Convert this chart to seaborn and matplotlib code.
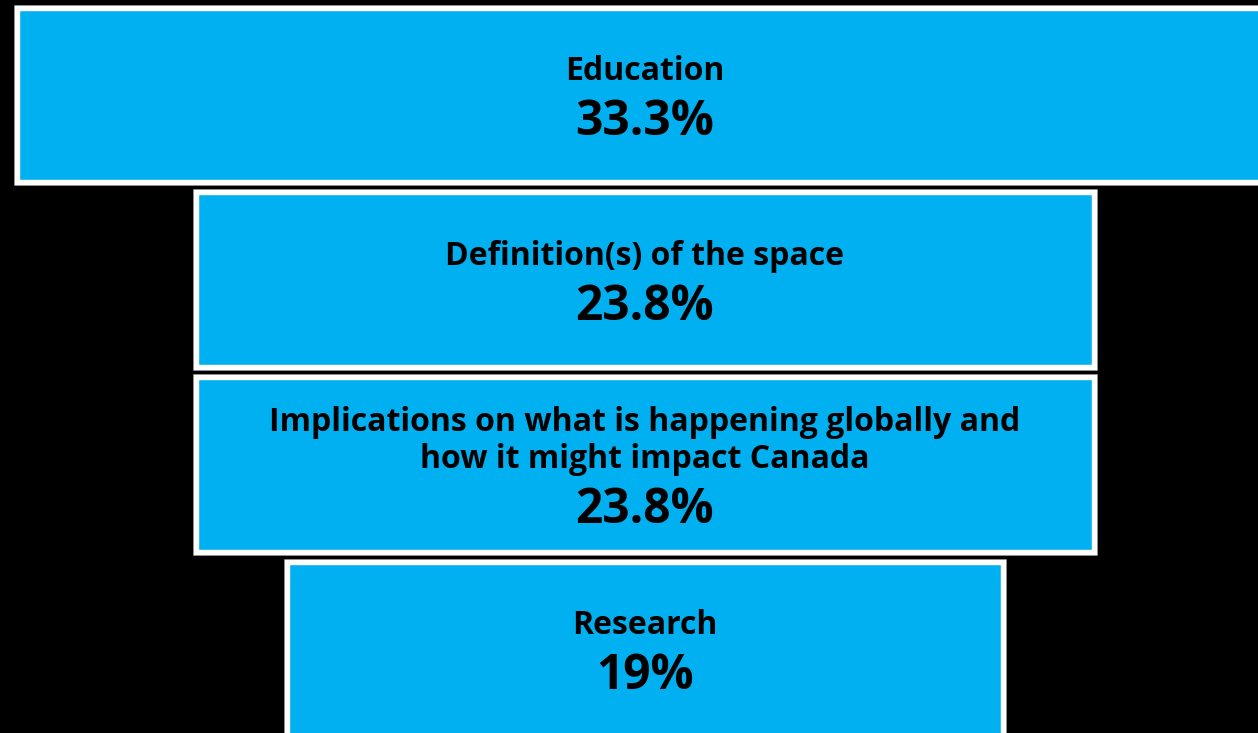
import matplotlib
matplotlib.use("Agg")
import matplotlib.pyplot as plt
from matplotlib.transforms import offset_copy
import seaborn as sns

# funnel data
categories = ["Education", "Definition(s) of the space",
              "Implications on what is happening globally and\nhow it might impact Canada",
              "Research"]
values = [33.3, 23.8, 23.8, 19]
pct_labels = ["33.3%", "23.8%", "23.8%", "19%"]

sns.set_theme(style="dark")
plt.rcParams['font.family'] = ['Open Sans', 'DejaVu Sans']

fig = plt.figure(figsize=(12.58, 7.33), dpi=100, facecolor="black")
ax = fig.add_axes([0, 0, 1, 1])
ax.set_facecolor("black")

# grey outline behind, then white-bordered blue bars
sns.barplot(x=values, y=categories, orient="h", color="#8a8a8a", width=0.943,
            saturation=1, edgecolor="#8a8a8a", linewidth=4.8, ax=ax)
sns.barplot(x=values, y=categories, orient="h", color="#00B0F0", width=0.943,
            saturation=1, edgecolor="white", linewidth=3.9, ax=ax)

# center each bar to make the funnel
for p in ax.patches:
    p.set_x(-p.get_width() / 2)

ax.set_xlim(-17.095, 16.247)
ax.set_ylim(3.453, -0.513)
ax.set_axis_off()

# labels: category lines then percentage, block centered on bar
line_gap = 37.3
pct_gap = 55
cap = 20
shift = 2.5
for i, (cat, pct) in enumerate(zip(categories, pct_labels)):
    lines = cat.split("\n")
    block = cap + (len(lines) - 1) * line_gap + pct_gap
    first = -block / 2 + cap + shift
    for j, ln in enumerate(lines):
        tr = offset_copy(ax.transData, fig=fig, y=-(first + j * line_gap), units="dots")
        ax.text(0, i, ln, transform=tr, ha="center", va="baseline",
                fontsize=23, fontweight="bold", color="black")
    tr = offset_copy(ax.transData, fig=fig,
                     y=-(first + (len(lines) - 1) * line_gap + pct_gap), units="dots")
    ax.text(0, i, pct, transform=tr, ha="center", va="baseline",
            fontsize=34.5, fontweight="bold", color="black")

fig.savefig("out.png", dpi=100, facecolor="black")
